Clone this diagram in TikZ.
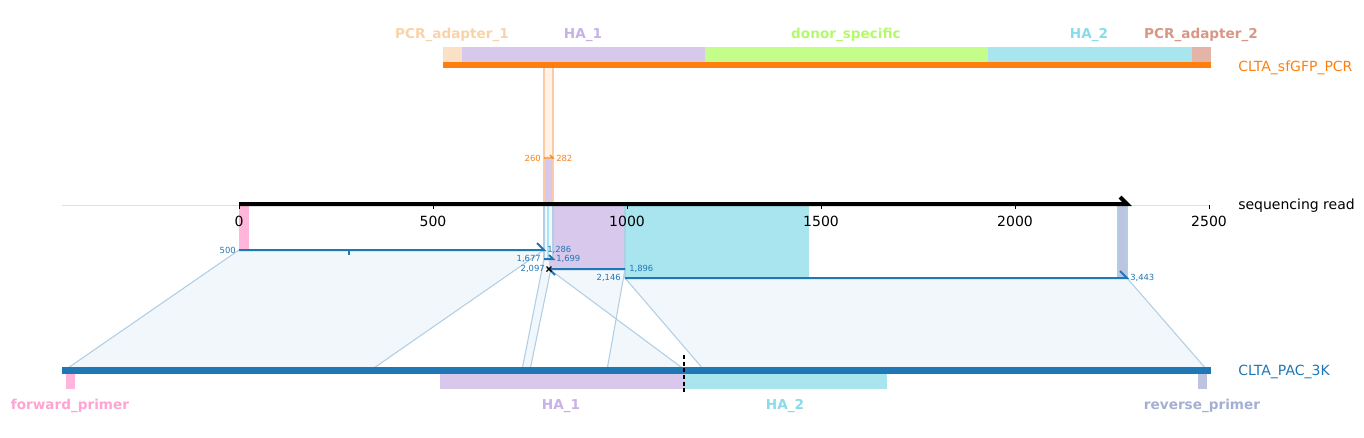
\documentclass[tikz,border=0pt]{standalone}
\usepackage{fontspec}
\setmainfont{DejaVu Sans}
\usepackage{xcolor}
\usetikzlibrary{positioning}

\definecolor{tabblue}{HTML}{1F77B4}
\definecolor{taborange}{HTML}{FF7F0E}
\definecolor{wedgefill}{HTML}{F2F7FB}
\definecolor{wedgeedge}{HTML}{B0CFE6}
\definecolor{topfill}{HTML}{FFF2E8}
\definecolor{topedge}{HTML}{FBCBA5}
\definecolor{adaptA}{HTML}{FAE0C5}
\definecolor{adaptAtxt}{HTML}{F9D3A7}
\definecolor{haone}{HTML}{D8C8EC}
\definecolor{haonetxt}{HTML}{C7B1E6}
\definecolor{donor}{HTML}{C5FD8A}
\definecolor{donortxt}{HTML}{B6F86D}
\definecolor{hatwo}{HTML}{A8E5EE}
\definecolor{hatwotxt}{HTML}{8ADBE9}
\definecolor{adaptB}{HTML}{E2B5A8}
\definecolor{adaptBtxt}{HTML}{D79785}
\definecolor{fwd}{HTML}{FFB6DA}
\definecolor{fwdtxt}{HTML}{FFA3D3}
\definecolor{rev}{HTML}{BCC4E0}
\definecolor{revtxt}{HTML}{A3AFD3}

\tikzset{
	wedge/.style={fill=wedgefill, draw=wedgeedge, line width=0.8pt},
	featlabel/.style={font=\bfseries\fontsize{10.2}{12}\selectfont, inner sep=0pt},
	ticklabel/.style={font=\fontsize{10.5}{12}\selectfont, inner sep=0pt},
	poslabel/.style={font=\fontsize{6.3}{7}\selectfont, inner sep=0pt, text=tabblue},
	trackname/.style={font=\fontsize{10.5}{12}\selectfont, inner sep=0pt, anchor=west},
	alnline/.style={draw=tabblue, line width=1.5pt},
	tickmark/.style={draw=black, line width=0.6pt}
}

\begin{document}
\begin{tikzpicture}[x=0.75pt,y=-0.75pt]
	
	\useasboundingbox (0,0) rectangle (1364,437);
	
	% alignment end points on the read
	\coordinate (r1s) at (239,250);
	\coordinate (r1e) at (544,250);
	\coordinate (r2s) at (544,259);
	\coordinate (r2e) at (553,259);
	\coordinate (r3s) at (549,269);
	\coordinate (r3e) at (625,269);
	\coordinate (r4s) at (625,278);
	\coordinate (r4e) at (1127,278);
	
	% matching points on CLTA_PAC_3K
	\coordinate (b1s) at (65,370);
	\coordinate (b1e) at (371,370);
	\coordinate (b2s) at (522,370);
	\coordinate (b2e) at (530,370);
	\coordinate (b3s) at (685,370);
	\coordinate (b3e) at (607,370);
	\coordinate (b4s) at (704,370);
	\coordinate (b4e) at (1207,370);
	
	% wedges
	\draw[wedge] (r1s) -- (r1e) -- (b1e) -- (b1s) -- cycle;
	\draw[wedge] (r2s) -- (r2e) -- (b2e) -- (b2s) -- cycle;
	\draw[wedge] (r3s) -- (r3e) -- (b3e) -- (b3s) -- cycle;
	\draw[wedge] (r4s) -- (r4e) -- (b4e) -- (b4s) -- cycle;
	
	% features on the read
	\fill[fwd] (239,205) rectangle (249,250);
	\fill[haone] (549,205) rectangle (625,268);
	\fill[hatwo] (625,205) rectangle (809,278);
	\draw[fill=rev, draw=wedgeedge, line width=0.8pt] (1118,205) rectangle (1127,278);
	\draw[fill=wedgefill, draw=wedgeedge, line width=0.8pt] (544,205) rectangle (553,259);
	\fill[hatwo] (547,206) rectangle (549,258);
	\draw[draw=wedgeedge, line width=0.8pt] (625,205) -- (625,278);
	
	% top band to CLTA_sfGFP_PCR
	\coordinate (t1s) at (544,68);
	\coordinate (t1e) at (553,68);
	\coordinate (rts) at (544,158);
	\coordinate (rte) at (553,158);
	\fill[topfill] (t1s) rectangle (rte);
	\fill[haone] (544,159) rectangle (553,205);
	\draw[topedge, line width=0.8pt] (t1s) -- (544,205);
	\draw[topedge, line width=0.8pt] (t1e) -- (553,205);
	
	% axis
	\draw[gray!25, line width=0.6pt] (62,205) -- (1209,205);
	\draw[tickmark] (239,205) -- (239,209);
	\draw[tickmark] (433,205) -- (433,209);
	\draw[tickmark] (627,205) -- (627,209);
	\draw[tickmark] (821,205) -- (821,209);
	\draw[tickmark] (1015,205) -- (1015,209);
	\draw[tickmark] (1209,205) -- (1209,209);
	
	\node[ticklabel] (T0) at (239,221) {0};
	\node[ticklabel] (T500) at (433,221) {500};
	\node[ticklabel] (T1000) at (627,221) {1000};
	\node[ticklabel] (T1500) at (821,221) {1500};
	\node[ticklabel] (T2000) at (1015,221) {2000};
	\node[ticklabel] (T2500) at (1209,221) {2500};
	
	% sequencing read
	\coordinate (readS) at (239,204);
	\coordinate (readE) at (1127,204);
	\draw[black, line width=3pt, line join=miter] (readS) -- (readE) -- ++(-7,-7);
	\node[trackname] (seq) at (1238,206) {sequencing read};
	
	% alignments
	\draw[alnline] (r1s) -- (r1e) -- ++(-7,-7);
	\draw[alnline] (349,250) -- (349,255);
	\draw[alnline] (r2s) -- (r2e) -- ++(-4,-4);
	\draw[alnline] (r3e) -- (r3s) -- ++(6,6);
	\draw[black, line width=1pt] (r3s) ++(-2.5,-2.5) -- ++(5,5);
	\draw[black, line width=1pt] (r3s) ++(-2.5,2.5) -- ++(5,-5);
	\draw[alnline] (r4s) -- (r4e) -- ++(-7,-7);
	\draw[taborange, line width=1pt] (rts) -- (rte) -- ++(-3,-3);
	
	\node[poslabel, anchor=east] (p500) at (236,250) {500};
	\node[poslabel, anchor=west] (p1286) at (547,250) {1,286};
	\node[poslabel, anchor=east] (p1677) at (541,259) {1,677};
	\node[poslabel, anchor=west] (p1699) at (556,259) {1,699};
	\node[poslabel, anchor=east] (p2097) at (545,269) {2,097};
	\node[poslabel, anchor=west] (p1896) at (629,269) {1,896};
	\node[poslabel, anchor=east] (p2146) at (621,278) {2,146};
	\node[poslabel, anchor=west] (p3443) at (1130,278) {3,443};
	\node[poslabel, anchor=east, text=taborange] (p260) at (541,158) {260};
	\node[poslabel, anchor=west, text=taborange] (p282) at (556,158) {282};
	
	% CLTA_sfGFP_PCR
	\fill[adaptA] (443,47) rectangle (462,63);
	\fill[haone] (462,47) rectangle (705,63);
	\fill[donor] (705,47) rectangle (988,63);
	\fill[hatwo] (988,47) rectangle (1192,63);
	\fill[adaptB] (1192,47) rectangle (1211,63);
	\fill[taborange] (443,62) rectangle (1211,68);
	
	\node[featlabel, text=adaptAtxt] (adapter1) at (452,35) {PCR\_adapter\_1};
	\node[featlabel, text=haonetxt] (topha1) at (583,35) {HA\_1};
	\node[featlabel, text=donortxt] (donorspec) at (846,35) {donor\_specific};
	\node[featlabel, text=hatwotxt] (topha2) at (1089,35) {HA\_2};
	\node[featlabel, text=adaptBtxt] (adapter2) at (1201,35) {PCR\_adapter\_2};
	\node[trackname, text=taborange] (pcr) at (1238,68) {CLTA\_sfGFP\_PCR};
	
	% CLTA_PAC_3K
	\fill[tabblue] (62,367) rectangle (1211,374);
	\fill[fwd] (66,374) rectangle (75,389);
	\fill[haone] (440,374) rectangle (685,389);
	\fill[hatwo] (685,374) rectangle (887,389);
	\fill[rev] (1198,374) rectangle (1207,389);
	\draw[black, dashed, line width=0.8pt, dash pattern=on 3pt off 2pt] (684,355) -- (684,394);
	
	\node[featlabel, text=fwdtxt] (fwdprimer) at (70,406) {forward\_primer};
	\node[featlabel, text=haonetxt] (botha1) at (561,406) {HA\_1};
	\node[featlabel, text=hatwotxt] (botha2) at (785,406) {HA\_2};
	\node[featlabel, text=revtxt] (revprimer) at (1202,406) {reverse\_primer};
	\node[trackname, text=tabblue] (pac) at (1238,372) {CLTA\_PAC\_3K};
	
\end{tikzpicture}
\end{document}
